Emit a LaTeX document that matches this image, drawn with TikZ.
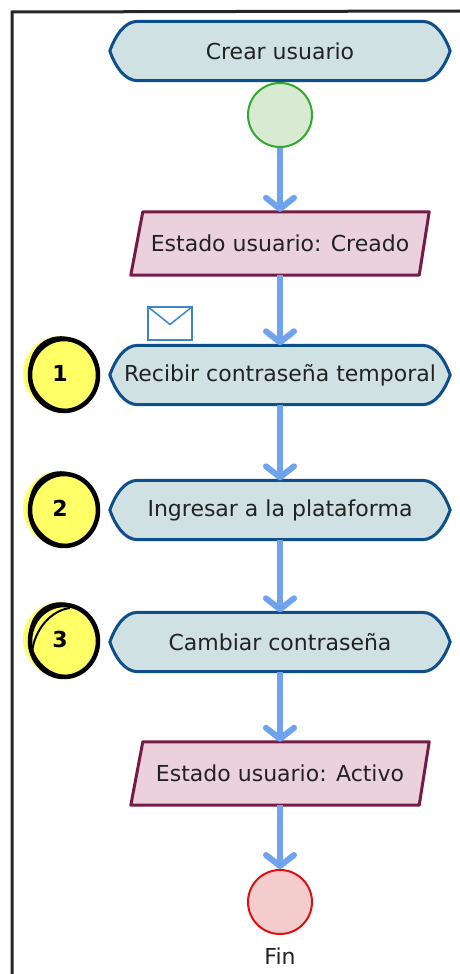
\documentclass[tikz,border=0pt]{standalone}
\usepackage{fontspec}
\setmainfont{DejaVu Sans}
\usetikzlibrary{arrows.meta,backgrounds,calc}
\definecolor{termfill}{HTML}{D0E1E4}
\definecolor{termdraw}{HTML}{0D4F8B}
\definecolor{parfill}{HTML}{EAD1DC}
\definecolor{pardraw}{HTML}{741B47}
\definecolor{startfill}{HTML}{D9EAD3}
\definecolor{startdraw}{HTML}{2EAA2E}
\definecolor{endfill}{HTML}{F4CCCC}
\definecolor{enddraw}{HTML}{DD1111}
\definecolor{flowc}{HTML}{6FA3EF}
\definecolor{badgefill}{HTML}{FFFF66}
\definecolor{envc}{HTML}{3D85C6}
\definecolor{txt}{HTML}{222222}
\newcommand\myTermOutline[1]{%
  \draw[termline] (#1.west) .. controls +(5,-14) and +(-14,0) .. ([xshift=28pt]#1.north west)
    -- ([xshift=-28pt]#1.north east) .. controls +(14,0) and +(-5,-14) .. (#1.east)
    .. controls +(-5,14) and +(14,0) .. ([xshift=-28pt]#1.south east)
    -- ([xshift=28pt]#1.south west) .. controls +(-14,0) and +(5,14) .. (#1.west) -- cycle;}
\newcommand\myParaOutline[1]{%
  \draw[parline] ([xshift=12pt]#1.north west) -- (#1.north east)
    -- ([xshift=-10pt]#1.south east) -- (#1.south west) -- cycle;}
\newcommand\myRingMark[1]{%
  \draw[ring] ([shift={(4,2)}]#1.center) ellipse [x radius=34pt, y radius=36pt];
  \draw[ringthin, rotate around={25:([shift={(3,2)}]#1.center)}] ([shift={(3,2)}]#1.center) ellipse [x radius=33pt, y radius=37pt];}
\begin{document}
\begin{tikzpicture}[x=1pt,y=-1pt,
  every node/.style={font=\fontsize{22}{26}\selectfont, text=txt},
  termnode/.style={rectangle, minimum width=340pt, minimum height=59pt, inner sep=0pt},
  termline/.style={draw=termdraw, fill=termfill, line width=3pt, line join=round},
  parnode/.style={rectangle, minimum width=298pt, minimum height=63pt, inner sep=0pt},
  parline/.style={draw=pardraw, fill=parfill, line width=3pt, line join=round},
  startnode/.style={circle, minimum size=64pt, inner sep=0pt, draw=startdraw, fill=startfill, line width=2pt},
  endnode/.style={circle, minimum size=64pt, inner sep=0pt, draw=enddraw, fill=endfill, line width=2pt},
  flow/.style={draw=flowc, line width=6pt, -{Straight Barb[length=11pt, width=28pt, round]}},
  badge/.style={circle, minimum size=74pt, inner sep=0pt, fill=badgefill, font=\fontsize{22}{24}\selectfont\bfseries, text=black},
  ring/.style={draw=black, line width=4.5pt},
  ringthin/.style={draw=black, line width=2pt},
  envelope/.style={rectangle, minimum width=44pt, minimum height=33pt, inner sep=0pt, draw=envc, line width=1.5pt, fill=white},
  frameline/.style={draw=black!85, line width=3pt}
]
\useasboundingbox (0,0) rectangle (460,974);
\begin{pgfonlayer}{background}
\fill[white] (0,0) rectangle (460,974);
\end{pgfonlayer}
\draw[frameline] (12,974) -- (12,12) -- (460,11);

% nodes
\node[termnode] (t0) at (280,51) {Crear usuario};
\node[startnode] (s) at (280,115) {};
\node[parnode] (p1) at (280,243.5) {Estado usuario: Creado};
\node[envelope] (env) at (170,323.5) {};
\node[termnode] (t1) at (280,375) {Recibir contraseña temporal};
\node[termnode] (t2) at (280,510) {Ingresar a la plataforma};
\node[termnode] (t3) at (280,642) {Cambiar contraseña};
\node[parnode] (p2) at (280,773.5) {Estado usuario: Activo};
\node[endnode] (e) at (280,902) {};
\node (fin) at (280,956) {Fin};

\begin{pgfonlayer}{background}
\myTermOutline{t0}
\myTermOutline{t1}
\myTermOutline{t2}
\myTermOutline{t3}
\myParaOutline{p1}
\myParaOutline{p2}
\end{pgfonlayer}

\draw[envc, line width=1.5pt, line join=round] (env.north west) -- ([yshift=-1pt]env.center) -- (env.north east);

% badges
\node[badge] (b1) at (60,373) {1};
\node[badge] (b2) at (60,508) {2};
\node[badge] (b3) at (60,639) {3};
\myRingMark{b1}
\myRingMark{b2}
\myRingMark{b3}
\draw[line width=2pt] ([shift={(-28,14)}]b3.center) .. controls +(2,-24) and +(-18,2) .. ([shift={(10,-31)}]b3.center);

% connectors
\draw[flow] (s) -- (p1);
\draw[flow] (p1) -- (t1);
\draw[flow] (t1) -- (t2);
\draw[flow] (t2) -- (t3);
\draw[flow] (t3) -- (p2);
\draw[flow] (p2) -- (e);
\end{tikzpicture}
\end{document}
